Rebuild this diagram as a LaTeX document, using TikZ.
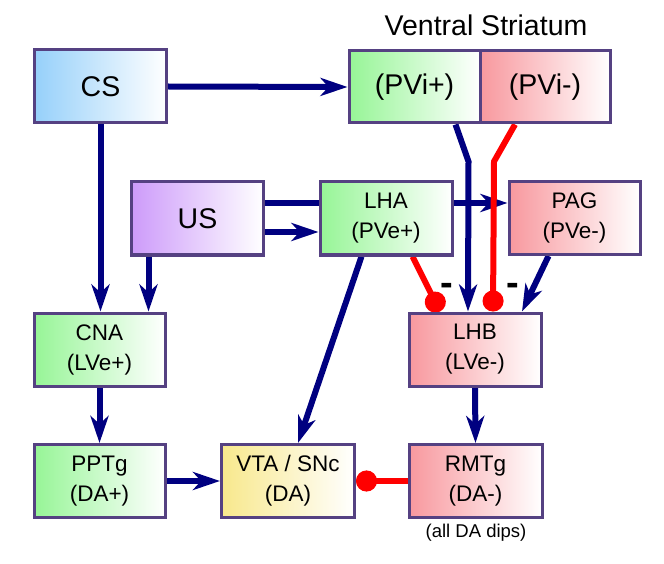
\documentclass[tikz,border=0pt]{standalone}
\usepackage{fontspec}
\setmainfont{Liberation Sans}
\usetikzlibrary{arrows.meta,backgrounds,calc}
\definecolor{navy}{RGB}{0,0,128}
\definecolor{edgec}{RGB}{85,65,130}
\definecolor{cblue}{RGB}{150,208,250}
\definecolor{cgreen}{RGB}{150,245,150}
\definecolor{cpink}{RGB}{248,152,158}
\definecolor{cpurple}{RGB}{205,155,250}
\definecolor{cyellow}{RGB}{248,232,140}
\begin{document}
\begin{tikzpicture}[x=1pt,y=-1pt,
  box/.style={draw=edgec,line width=3pt,minimum width=132pt,minimum height=73pt,
    inner sep=0pt,align=center,right color=white},
  big/.style={font=\fontsize{28.5}{34}\selectfont},
  small/.style={font=\fontsize{22.5}{30}\selectfont},
  arr/.style={navy,line width=6pt,-{Stealth[length=27pt,width=18pt,inset=8pt]}},
  inh/.style={red,line width=6pt,-{Circle[length=21pt]}},
  minus/.style={font=\fontsize{38}{38}\selectfont\bfseries,inner sep=0pt}]
\useasboundingbox (0,0) rectangle (664,564);

\node[box,big,left color=cblue] (cs) at (100.5,86.5) {CS};
\node[box,big,left color=cgreen,minimum width=131pt,minimum height=72pt] (pvip) at (414.5,87) {(PVi+)};
\node[box,big,left color=cpink,minimum width=130pt,minimum height=72pt] (pvim) at (545,87) {(PVi-)};
\node[font=\fontsize{28.5}{30}\selectfont,inner sep=0pt] (vs) at (486,25) {Ventral Striatum};

\node[box,big,left color=cpurple] (us) at (197.5,218.5) {US};
\node[box,small,left color=cgreen] (lha) at (386,218.5) {LHA\\(PVe+)};
\node[box,small,left color=cpink,minimum width=131pt] (pag) at (574.5,218) {PAG\\(PVe-)};

\node[box,small,left color=cgreen,minimum width=131pt] (cna) at (99.5,349.5) {CNA\\(LVe+)};
\node[box,small,left color=cpink] (lhb) at (475,349.5) {LHB\\(LVe-)};

\node[box,small,left color=cgreen,minimum width=131pt] (pptg) at (99.5,481) {PPTg\\(DA+)};
\node[box,small,left color=cyellow,minimum width=133pt] (vta) at (288,481) {VTA / SNc\\(DA)};
\node[box,small,left color=cpink,minimum width=133pt] (rmtg) at (475.5,481) {RMTg\\(DA-)};
\node[font=\fontsize{18.5}{20}\selectfont,inner sep=0pt] (note) at (476,533) {(all DA dips)};

\node[minus] (m1) at (447,289) {-};
\node[minus] (m2) at (513,289) {-};

\begin{scope}[on background layer]
  \draw[arr] (cs.east) -- (pvip.west);
  \draw[arr] (cs.south) -- (cs.south |- cna.north);
  \draw[arr] ([xshift=-49pt]us.south) -- ([xshift=-49pt]us.south |- cna.north);
  \draw[arr] ([yshift=15.5pt]us.east) -- ([yshift=15.5pt]us.east -| pag.west);
  \draw[arr] ([yshift=-13.5pt]us.east) -- ([yshift=-13.5pt]us.east -| lha.west);
  \draw[arr] ([xshift=41pt]pvip.south) -- ++(13,37) -- ([xshift=-7pt]lhb.north);
  \draw[inh] ([xshift=-30pt]pvim.south) -- ++(-21,37) -- ([xshift=18pt]lhb.north);
  \draw[inh] ([xshift=26.5pt]lha.south) -- ([xshift=-35pt]lhb.north);
  \draw[arr] ([xshift=-26pt]pag.south) -- ([xshift=47pt]lhb.north);
  \draw[arr] ([xshift=-24.5pt]lha.south) -- ([xshift=10pt]vta.north);
  \draw[arr] (cna.south) -- (pptg.north);
  \draw[arr] (lhb.south) -- (rmtg.north);
  \draw[arr] (pptg.east) -- (vta.west);
  \draw[inh] (rmtg.west) -- (vta.east);
\end{scope}
\end{tikzpicture}
\end{document}
